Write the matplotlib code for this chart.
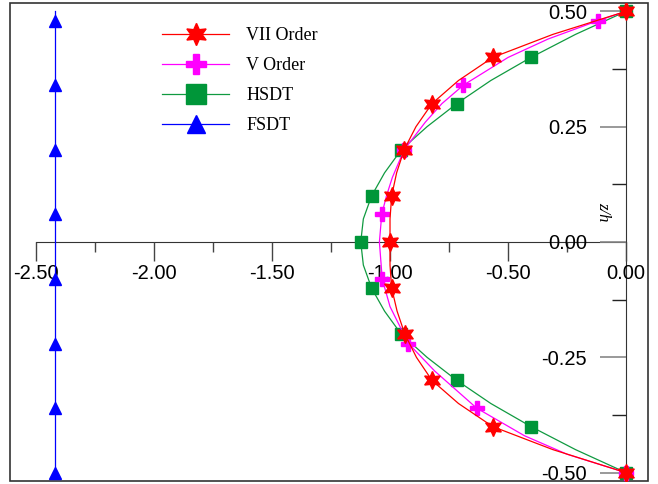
import numpy as np
import matplotlib
matplotlib.use("Agg")
from matplotlib import pyplot as plt
from matplotlib.patches import Rectangle
from matplotlib.lines import Line2D

# VII order (markers at every 0.1 in z)
z_vii = [0.5, 0.45, 0.4, 0.35, 0.3, 0.25, 0.2, 0.15, 0.1, 0.05, 0.0,
         -0.05, -0.1, -0.15, -0.2, -0.25, -0.3, -0.35, -0.4, -0.45, -0.5]
x_vii = [0.0, -0.31, -0.565, -0.71, -0.822, -0.89, -0.94, -0.972, -0.993, -1.0, -1.0,
         -1.0, -0.993, -0.970, -0.937, -0.888, -0.822, -0.71, -0.565, -0.31, 0.0]
mk_vii = list(range(0, 21, 2))

# V order
z_v = [0.5, 0.48, 0.44, 0.40, 0.34, 0.30, 0.26, 0.20, 0.14, 0.10, 0.06, 0.0,
       -0.08, -0.14, -0.22, -0.28, -0.36, -0.42, -0.46, -0.5]
x_v = [0.0, -0.117, -0.33, -0.50, -0.689, -0.78, -0.85, -0.94, -0.99, -1.015, -1.035, -1.045,
       -1.033, -1.0, -0.922, -0.81, -0.633, -0.43, -0.25, 0.0]
mk_v = [1, 4, 7, 10, 12, 14, 16, 19]

# HSDT
z_hs = z_vii
x_hs = [0.0, -0.214, -0.403, -0.573, -0.717, -0.843, -0.952, -1.023, -1.078, -1.113, -1.124,
        -1.113, -1.078, -1.023, -0.952, -0.843, -0.717, -0.573, -0.403, -0.214, 0.0]
mk_hs = mk_vii

# FSDT
z_fs = [-0.5, -0.36, -0.22, -0.08, 0.06, 0.2, 0.34, 0.48, 0.5]
x_fs = [-2.42] * len(z_fs)
mk_fs = list(range(8))

labels = ["VII Order", "V Order", "HSDT", "FSDT"]
xticks = [-2.5, -2.0, -1.5, -1.0, -0.5, 0.0]
yticks = [-0.5, -0.25, 0.0, 0.25, 0.5]

fig = plt.figure(figsize=(6.58, 4.84), dpi=100)
ax = fig.add_axes([10 / 658, 3 / 484, 638 / 658, 478 / 484])
ax.set_xlim(-2.61, 0.093)
ax.set_ylim(-0.518, 0.518)

lw = 0.9
c_vii, c_v, c_hs, c_fs = "#ff0000", "#ff00ff", "#109a40", "#0000ff"
ax.plot(x_fs, z_fs, color=c_fs, lw=lw, marker="^", ms=8, markevery=mk_fs)
ax.plot(x_hs, z_hs, color=c_hs, lw=lw, marker="s", ms=9,
        mfc="#009639", mec="#009639", markevery=mk_hs)
ax.plot(x_v, z_v, color=c_v, lw=lw, marker="P", ms=10, mec=c_v, markevery=mk_v)
ax.plot(x_vii, z_vii, color=c_vii, lw=lw, marker=(6, 1, 0), ms=13, markevery=mk_vii)

# axes crossing at the origin
for s in ["top", "right"]:
    ax.spines[s].set_visible(False)
ax.spines["bottom"].set_position(("data", 0))
ax.spines["left"].set_position(("data", 0))
ax.spines["bottom"].set_bounds(-2.5, 0)
ax.spines["left"].set_bounds(-0.5, 0.5)
for s in ["bottom", "left"]:
    ax.spines[s].set_color("#333333")
    ax.spines[s].set_zorder(1)

ax.set_xticks(xticks)
ax.set_xticklabels(["%.2f" % v for v in xticks])
ax.set_xticks([-2.25, -1.75, -1.25, -0.75, -0.25], minor=True)
ax.set_yticks(yticks)
ax.set_yticklabels(["%.2f" % v for v in yticks])
ax.set_yticks([-0.375, -0.125, 0.125, 0.375], minor=True)

ax.tick_params(axis="x", which="major", direction="out", length=14, width=1,
               color="#444444", pad=2, labelsize=14.5)
ax.tick_params(axis="x", which="minor", direction="out", length=7, width=1,
               color="#444444")
ax.tick_params(axis="y", which="major", direction="out", length=19, width=1.2,
               color="#888888", pad=9, labelsize=14.5)
ax.tick_params(axis="y", which="minor", direction="out", length=10, width=1,
               color="#222222")
for lab in ax.get_xticklabels() + ax.get_yticklabels():
    lab.set_family("Liberation Sans")

ax.text(-0.097, 0.065, "z/h", rotation=-90, ha="center", va="center",
        family="Liberation Serif", style="italic", fontsize=12)

# outer frame
ax.add_patch(Rectangle((0, 0), 1, 1, transform=ax.transAxes, fill=False,
                       ec="#333333", lw=1.2, clip_on=False))

# legend markers are drawn larger than the plot markers
handles = [
    Line2D([], [], color=c_vii, lw=lw, marker=(6, 1, 0), ms=16),
    Line2D([], [], color=c_v, lw=lw, marker="P", ms=15, mec=c_v),
    Line2D([], [], color=c_hs, lw=lw, marker="s", ms=15, mfc="#009639", mec="#009639"),
    Line2D([], [], color=c_fs, lw=lw, marker="^", ms=13),
]
ax.legend(handles=handles, labels=labels, loc="upper left",
          bbox_to_anchor=(136 / 638, 1 - 8 / 478), frameon=False,
          prop={"family": "Liberation Serif", "size": 13},
          handlelength=3.7, labelspacing=0.72, handletextpad=0.95)

fig.savefig("out.png", dpi=100)
